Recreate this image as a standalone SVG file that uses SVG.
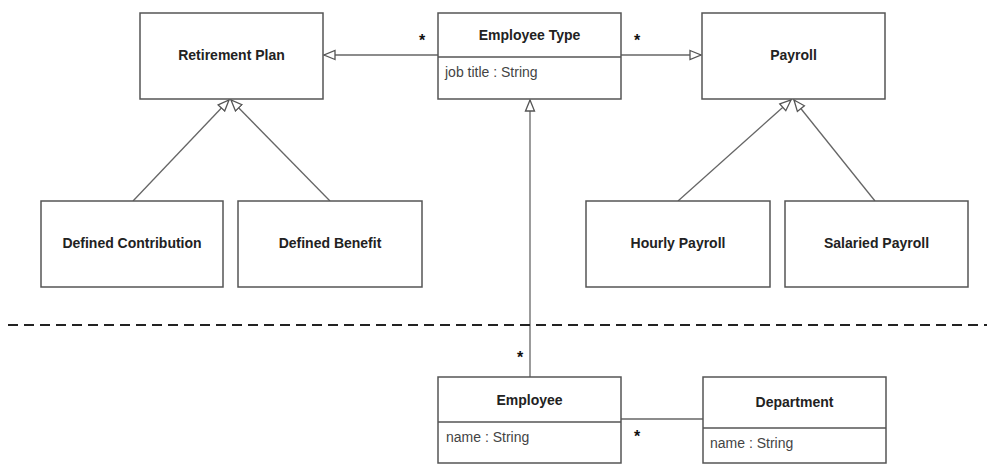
<svg xmlns="http://www.w3.org/2000/svg" width="987" height="464" viewBox="0 0 987 464">
<style>
.box{fill:#fff;stroke:#555;stroke-width:1.5}
.div{stroke:#555;stroke-width:1.5}
.t{font-family:"Liberation Sans",Arial,sans-serif;font-size:14px;font-weight:bold;fill:#222;text-anchor:middle}
.a{font-family:"Liberation Sans",Arial,sans-serif;font-size:14px;fill:#444}
.star{font-family:"Liberation Sans",Arial,sans-serif;font-size:16px;font-weight:bold;fill:#111;text-anchor:middle}
.c{stroke:#666;stroke-width:1.3;fill:none}
.gen{marker-end:url(#tri)}
</style>
<defs>
<marker id="tri" markerUnits="userSpaceOnUse" markerWidth="14" markerHeight="12" viewBox="0 0 14 12" refX="12" refY="6" orient="auto">
<path d="M1,1.5 L12,6 L1,10.5 Z" fill="#fff" stroke="#555" stroke-width="1.3"/>
</marker>
</defs>
<g id="connectors">
<line class="c gen" x1="438" y1="55" x2="324" y2="55"/>
<line class="c gen" x1="621" y1="55" x2="701" y2="55"/>
<line class="c gen" x1="133" y1="201" x2="229" y2="100"/>
<line class="c gen" x1="330" y1="201" x2="231" y2="100"/>
<line class="c gen" x1="678" y1="201" x2="791" y2="100"/>
<line class="c gen" x1="875" y1="201" x2="794" y2="100"/>
<line class="c gen" x1="530" y1="377" x2="530" y2="100"/>
<line class="c" x1="621" y1="419" x2="703" y2="419"/>
<text class="star" x="422" y="46">*</text>
<text class="star" x="637" y="46">*</text>
<text class="star" x="520" y="363">*</text>
<text class="star" x="637" y="442">*</text>
</g>
<line id="boundary" x1="8" y1="325" x2="987" y2="325" stroke="#222" stroke-width="2" stroke-dasharray="10,6"/>
<g id="retirement-plan">
<rect class="box" x="140" y="13" width="183" height="86"/>
<text class="t" x="231.5" y="60">Retirement Plan</text>
</g>
<g id="employee-type">
<rect class="box" x="438" y="13" width="183" height="86"/>
<line class="div" x1="438" y1="57" x2="621" y2="57"/>
<text class="t" x="529.5" y="40">Employee Type</text>
<text class="a" x="445" y="77">job title : String</text>
</g>
<g id="payroll">
<rect class="box" x="702" y="13" width="183" height="86"/>
<text class="t" x="793.5" y="60">Payroll</text>
</g>
<g id="defined-contribution">
<rect class="box" x="41" y="201" width="182" height="86"/>
<text class="t" x="132" y="248">Defined Contribution</text>
</g>
<g id="defined-benefit">
<rect class="box" x="238" y="201" width="184" height="86"/>
<text class="t" x="330" y="248">Defined Benefit</text>
</g>
<g id="hourly-payroll">
<rect class="box" x="586" y="201" width="184" height="86"/>
<text class="t" x="678" y="248">Hourly Payroll</text>
</g>
<g id="salaried-payroll">
<rect class="box" x="785" y="201" width="183" height="86"/>
<text class="t" x="876.5" y="248">Salaried Payroll</text>
</g>
<g id="employee">
<rect class="box" x="438" y="377" width="183" height="86"/>
<line class="div" x1="438" y1="422" x2="621" y2="422"/>
<text class="t" x="529.5" y="405">Employee</text>
<text class="a" x="446" y="442">name : String</text>
</g>
<g id="department">
<rect class="box" x="703" y="377" width="183" height="86"/>
<line class="div" x1="703" y1="428" x2="886" y2="428"/>
<text class="t" x="794.5" y="407">Department</text>
<text class="a" x="710" y="448">name : String</text>
</g>
</svg>
